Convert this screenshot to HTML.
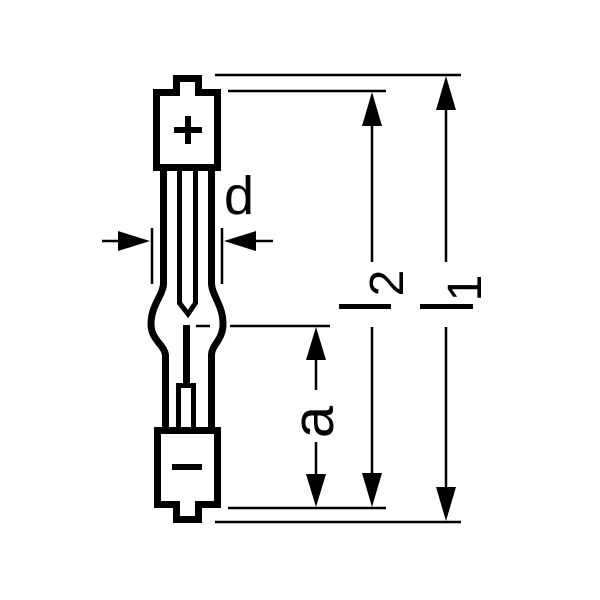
<!DOCTYPE html>
<html><head><meta charset="utf-8"><style>html,body{margin:0;padding:0;background:#fff}svg{display:block}</style></head><body>
<svg width="600" height="600" viewBox="0 0 600 600" xmlns="http://www.w3.org/2000/svg">
<g fill="none" stroke="#000" stroke-width="7">
<path d="M176.5 78.5 H198.5 V92.5 H217.5 V167.5 H156.5 V92.5 H176.5 Z"/>
<path d="M157.5 430.5 H217.5 V504.5 H198.5 V519.5 H176.5 V504.5 H157.5 Z"/>
<path d="M163.5 171 V283 C163.5 295 151 305 151 324 C151 340 164.5 345 165.5 355 V427"/>
<path d="M211.5 171 V283 C211.5 295 223 305 223 324 C223 340 211.5 345 211.5 355 V427"/>
</g>
<g fill="none" stroke="#000" stroke-width="5">
<path d="M179.5 171 V303 L188 314 L195.5 303 V171"/>
<path d="M178.5 427 V385.5 H193.5 V427"/>
</g>
<rect x="183" y="325" width="7" height="60" fill="#000"/>
<rect x="174" y="127" width="28" height="6" fill="#000"/>
<rect x="185" y="116" width="6" height="28" fill="#000"/>
<rect x="172" y="464" width="30" height="6" fill="#000"/>
<g stroke="#000" stroke-width="2.5" fill="none">
<line x1="215" y1="75" x2="461" y2="75"/>
<line x1="228" y1="91" x2="386" y2="91"/>
<line x1="228" y1="508" x2="386" y2="508"/>
<line x1="215" y1="522" x2="461" y2="522"/>
<line x1="230" y1="326" x2="330" y2="326"/>
<line x1="196" y1="326" x2="210" y2="326"/>
<line x1="446" y1="90" x2="446" y2="262"/>
<line x1="446" y1="327" x2="446" y2="505"/>
<line x1="372" y1="105" x2="372" y2="262"/>
<line x1="372" y1="327" x2="372" y2="492"/>
<line x1="316" y1="340" x2="316" y2="390"/>
<line x1="316" y1="442" x2="316" y2="492"/>
<line x1="152" y1="228" x2="152" y2="284"/>
<line x1="222" y1="228" x2="222" y2="284"/>
<line x1="102" y1="241" x2="135" y2="241"/>
<line x1="240" y1="241" x2="273" y2="241"/>
</g>
<g fill="#000">
<polygon points="446,76 436,110 456,110"/>
<polygon points="446,521 436,487 456,487"/>
<polygon points="372,92 362,126 382,126"/>
<polygon points="372,507 362,473 382,473"/>
<polygon points="316,327 306,360 326,360"/>
<polygon points="316,507 306,474 326,474"/>
<polygon points="150,241 118,231 118,251"/>
<polygon points="224,241 256,231 256,251"/>
<rect x="339" y="304" width="52" height="5"/>
<rect x="420" y="304" width="53" height="5"/>
</g>
<g font-family="Liberation Sans, sans-serif" fill="#000">
<text x="239" y="214" font-size="54" text-anchor="middle">d</text>
<text transform="translate(333,422) rotate(-90)" font-size="58" text-anchor="middle">a</text>
<text transform="translate(403,283) rotate(-90)" font-size="48" text-anchor="middle">2</text>
<text transform="translate(481,288) rotate(-90)" font-size="48" text-anchor="middle">1</text>
</g>
</svg>
</body></html>
